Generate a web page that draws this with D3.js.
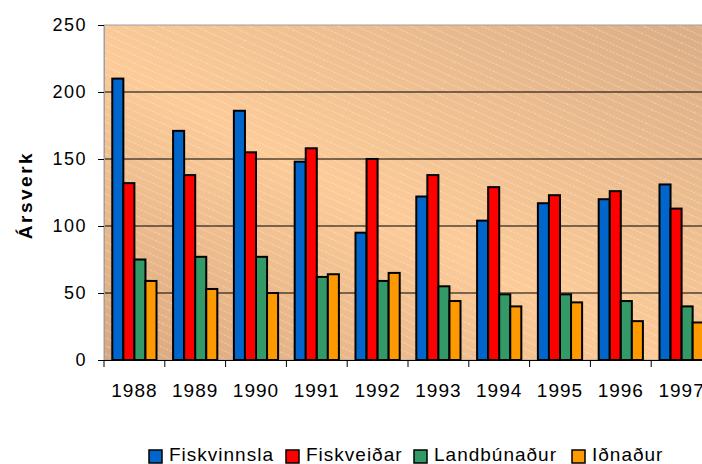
<!DOCTYPE html>
<html>
<head>
<meta charset="utf-8">
<script src="https://cdn.jsdelivr.net/npm/d3@7"></script>
<style>
  body { margin: 0; background: #fff; }
  svg { display: block; font-family: 'Liberation Sans', Arial, sans-serif; }
</style>
</head>
<body>
<svg id="chart" width="702" height="464"></svg>
<script>
const years = ['1988', '1989', '1990', '1991', '1992', '1993', '1994', '1995', '1996', '1997']
const seriesNames = ['Fiskvinnsla', 'Fiskveiðar', 'Landbúnaður', 'Iðnaður']
const fiskvinnsla = [210, 171, 186, 148, 95, 122, 104, 117, 120, 131]
const fiskveidar = [132, 138, 155, 158, 150, 138, 129, 123, 126, 113]
const landbunadur = [75, 77, 77, 62, 59, 55, 49, 49, 44, 40]
const idnadur = [59, 53, 50, 64, 65, 44, 40, 43, 29, 28]
const yTicks = [0, 50, 100, 150, 200, 250]
const colors = ['#0066cc', '#ff0000', '#339966', '#ff9900']

const values = [fiskvinnsla, fiskveidar, landbunadur, idnadur]
const svg = d3.select('#chart')

const plotLeft = 104
const plotRight = 712
const plotTop = 25
const plotBottom = 360

const x0 = d3.scaleBand().domain(years).range([plotLeft, plotRight])
const x1 = d3.scaleBand().domain(seriesNames).range([0, x0.bandwidth()])
  .paddingInner(0).paddingOuter(0.75)
const y = d3.scaleLinear().domain([0, 250]).range([plotBottom, plotTop])

// 背景渐变和斜线
const defs = svg.append('defs')
const grad = defs.append('linearGradient')
  .attr('id', 'bg')
  .attr('x1', 0).attr('y1', 1).attr('x2', 1).attr('y2', 0)
grad.append('stop').attr('offset', 0).attr('stop-color', '#d9a77e')
grad.append('stop').attr('offset', 0.45).attr('stop-color', '#fccb98')
grad.append('stop').attr('offset', 1).attr('stop-color', '#dbad85')
const pat = defs.append('pattern')
  .attr('id', 'hatch')
  .attr('patternUnits', 'userSpaceOnUse')
  .attr('width', 40).attr('height', 7.3)
  .attr('patternTransform', 'rotate(24)')
pat.append('line')
  .attr('x1', 0).attr('y1', 3).attr('x2', 40).attr('y2', 3)
  .attr('stroke', '#fff')
  .attr('stroke-opacity', 0.45)
  .attr('stroke-width', 0.9)
  .attr('stroke-dasharray', '2 1.5')

svg.append('rect')
  .attr('x', plotLeft).attr('y', plotTop)
  .attr('width', plotRight - plotLeft).attr('height', plotBottom - plotTop)
  .attr('fill', 'url(#bg)')
svg.append('rect')
  .attr('x', plotLeft).attr('y', plotTop)
  .attr('width', plotRight - plotLeft).attr('height', plotBottom - plotTop)
  .attr('fill', 'url(#hatch)')
  .attr('stroke', '#a0a0a0')
  .attr('stroke-width', 1)

// 网格线
svg.append('g')
  .selectAll('line')
  .data(yTicks.filter(d => d > 0 && d < 250))
  .enter()
  .append('line')
  .attr('x1', plotLeft).attr('x2', plotRight)
  .attr('y1', d => y(d)).attr('y2', d => y(d))
  .attr('stroke', '#000')
  .attr('stroke-width', 1)

// 柱子
const groups = svg.append('g')
  .selectAll('g')
  .data(years)
  .enter()
  .append('g')
  .attr('transform', d => `translate(${x0(d)},0)`)
groups.selectAll('rect')
  .data((d, i) => seriesNames.map((s, j) => ({ s, v: values[j][i], c: colors[j] })))
  .enter()
  .append('rect')
  .attr('x', d => x1(d.s))
  .attr('y', d => y(d.v))
  .attr('width', x1.bandwidth())
  .attr('height', d => plotBottom - y(d.v))
  .attr('fill', d => d.c)
  .attr('stroke', '#000')
  .attr('stroke-width', 2)

// y 轴
const yAxis = svg.append('g')
  .attr('transform', `translate(${plotLeft},0)`)
  .call(d3.axisLeft(y).tickValues(yTicks).tickSize(6).tickPadding(11))
yAxis.select('.domain').attr('stroke', '#a0a0a0')
yAxis.selectAll('.tick line').attr('stroke', '#000')
yAxis.selectAll('text')
  .attr('font-size', 18)
  .attr('letter-spacing', '1.5px')
  .attr('fill', '#000')
  .style('font-family', "'Liberation Sans', Arial, sans-serif")

// x 轴
svg.append('line')
  .attr('x1', plotLeft).attr('x2', plotRight)
  .attr('y1', plotBottom + 0.5).attr('y2', plotBottom + 0.5)
  .attr('stroke', '#000')
svg.append('g')
  .selectAll('line')
  .data(years.concat(['end']))
  .enter()
  .append('line')
  .attr('x1', (d, i) => plotLeft + i * x0.step())
  .attr('x2', (d, i) => plotLeft + i * x0.step())
  .attr('y1', plotBottom).attr('y2', plotBottom + 7)
  .attr('stroke', '#000')
svg.append('g')
  .selectAll('text')
  .data(years)
  .enter()
  .append('text')
  .attr('x', d => x0(d) + x0.bandwidth() / 2)
  .attr('y', 397)
  .attr('text-anchor', 'middle')
  .attr('font-size', 19)
  .attr('letter-spacing', '1px')
  .text(d => d)

// y 轴标题
svg.append('text')
  .attr('transform', 'translate(32,195) rotate(-90)')
  .attr('text-anchor', 'middle')
  .attr('font-size', 19)
  .attr('font-weight', 'bold')
  .attr('letter-spacing', '2.5px')
  .text('Ársverk')

// 图例
const legendX = [149, 286, 414, 572]
const legend = svg.append('g')
  .selectAll('g')
  .data(seriesNames)
  .enter()
  .append('g')
  .attr('transform', (d, i) => `translate(${legendX[i]},450)`)
legend.append('rect')
  .attr('width', 13).attr('height', 13)
  .attr('fill', (d, i) => colors[i])
  .attr('stroke', '#000')
  .attr('stroke-width', 1.5)
legend.append('text')
  .attr('x', 20).attr('y', 11)
  .attr('font-size', 19)
  .attr('letter-spacing', '1px')
  .text(d => d)
</script>
</body>
</html>
